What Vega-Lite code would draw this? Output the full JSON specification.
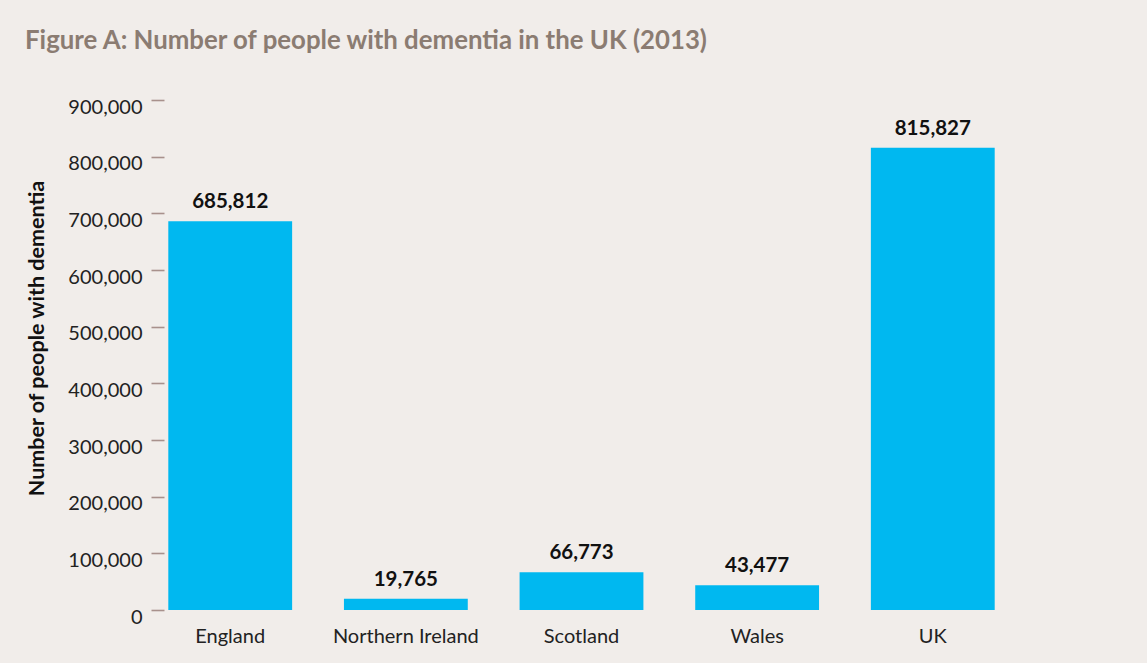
{
  "$schema": "https://vega.github.io/schema/vega-lite/v6.json",
  "width": 835,
  "height": 510,
  "autosize": {"type": "none"},
  "padding": {"left": 164, "top": 100, "right": 148, "bottom": 53},
  "background": "#f1edea",
  "title": {
    "text": "Figure A: Number of people with dementia in the UK (2013)",
    "anchor": "start",
    "frame": "group",
    "dx": -139,
    "baseline": "alphabetic",
    "offset": 22,
    "font": "Lato",
    "fontSize": 25.8,
    "fontWeight": "bold",
    "color": "#8b7c72"
  },
  "config": {
    "view": {"stroke": null},
    "font": "Lato"
  },
  "data": {
    "values": [
      {"country": "England", "people": 685812},
      {"country": "Northern Ireland", "people": 19765},
      {"country": "Scotland", "people": 66773},
      {"country": "Wales", "people": 43477},
      {"country": "UK", "people": 815827}
    ]
  },
  "encoding": {
    "x": {
      "field": "country",
      "type": "nominal",
      "sort": null,
      "scale": {"paddingInner": 0.295, "paddingOuter": 0.0245},
      "axis": {
        "title": null,
        "labelAngle": 0,
        "ticks": false,
        "domain": false,
        "labelPadding": 16,
        "labelFont": "Lato",
        "labelFontSize": 20,
        "labelColor": "#222222"
      }
    },
    "y": {
      "field": "people",
      "type": "quantitative",
      "scale": {"domain": [0, 900000], "nice": false},
      "axis": {
        "title": "Number of people with dementia",
        "titleFont": "Lato",
        "titleFontSize": 21.5,
        "titleFontWeight": "bold",
        "titleColor": "#111111",
        "titleX": -121,
        "titleY": 238,
        "titleAlign": "center",
        "titleBaseline": "alphabetic",
        "titleAngle": -90,
        "values": [0, 100000, 200000, 300000, 400000, 500000, 600000, 700000, 800000, 900000],
        "format": ",d",
        "grid": false,
        "domain": false,
        "tickSize": 13,
        "tickWidth": 1.6,
        "tickColor": "#a8918c",
        "labelPadding": 9,
        "labelOffset": 7,
        "labelFont": "Lato",
        "labelFontSize": 20,
        "labelColor": "#222222"
      }
    }
  },
  "layer": [
    {"mark": {"type": "bar", "color": "#00b8f0"}},
    {
      "mark": {"type": "text", "baseline": "alphabetic", "dy": -13, "font": "Lato", "fontSize": 20.5, "fontWeight": "bold", "color": "#111111"},
      "encoding": {"text": {"field": "people", "type": "quantitative", "format": ","}}
    }
  ]
}
